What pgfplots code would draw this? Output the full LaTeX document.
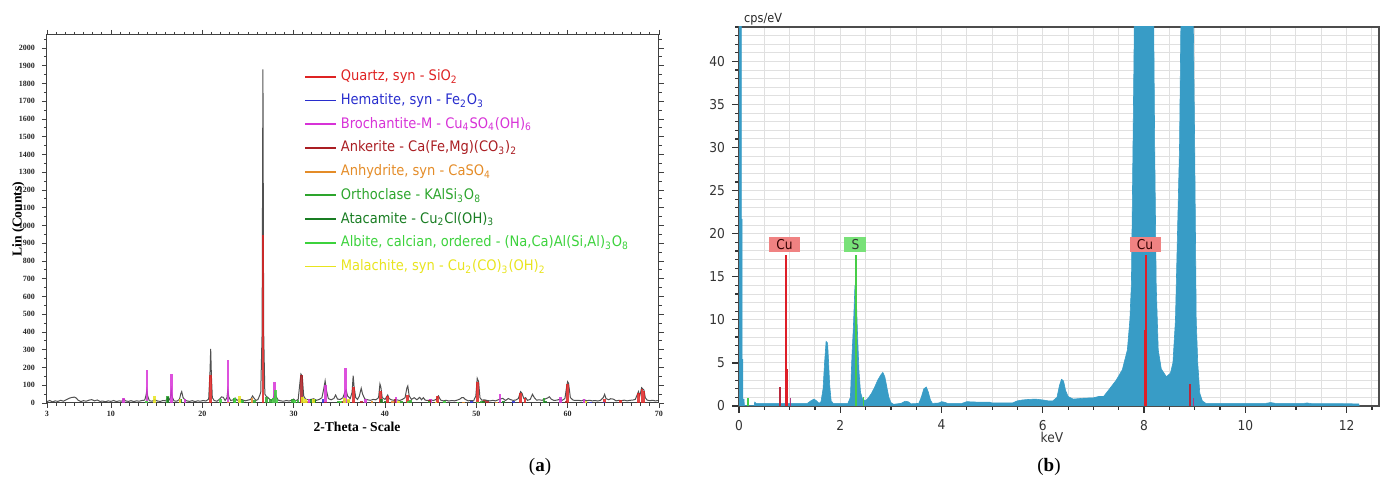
\documentclass[border=0pt]{standalone}
\usepackage{fontspec}
\setmainfont{Liberation Serif}
\newfontfamily\tah{DejaVu Sans Condensed}
\usepackage{pgfplots}
\usepackage{pgfplotstable}
\pgfplotsset{compat=1.18}

% phase colours (XRD)
\definecolor{qz}{RGB}{222,35,35}
\definecolor{hem}{RGB}{40,45,205}
\definecolor{bro}{RGB}{215,50,215}
\definecolor{ank}{RGB}{170,30,35}
\definecolor{anh}{RGB}{228,140,40}
\definecolor{ort}{RGB}{45,165,45}
\definecolor{ata}{RGB}{25,125,35}
\definecolor{alb}{RGB}{60,210,60}
\definecolor{mal}{RGB}{232,228,30}
% EDS colours
\definecolor{spec}{RGB}{56,156,198}
\definecolor{cured}{RGB}{222,30,40}
\definecolor{cudark}{RGB}{185,40,60}
\definecolor{cupur}{RGB}{170,60,130}
\definecolor{cupink}{RGB}{240,130,130}
\definecolor{sgreen}{RGB}{70,205,70}
\definecolor{sbox}{RGB}{120,225,120}
\definecolor{gridc}{RGB}{224,224,224}

% measured diffractogram (2theta, counts)
\pgfplotstableread{
x y
3.0 8
3.3 14
3.6 6
3.9 12
4.2 9
4.5 15
4.8 10
5.1 18
5.4 26
5.7 31
6.0 33
6.2 28
6.4 16
6.7 8
7.0 13
7.3 10
7.6 16
7.9 19
8.2 12
8.5 17
8.8 9
9.1 11
9.4 7
9.7 12
10.0 9
10.3 14
10.6 8
10.9 12
11.2 10
11.4 22
11.6 12
11.9 9
12.2 13
12.5 8
12.8 12
13.1 10
13.4 14
13.7 16
13.85 45
13.93 73
14.02 40
14.2 13
14.5 10
14.8 18
15.1 11
15.4 9
15.7 14
16.0 12
16.2 30
16.35 14
16.5 30
16.6 73
16.7 35
16.9 12
17.2 10
17.5 20
17.65 52
17.75 64
17.9 30
18.1 18
18.3 12
18.6 9
18.9 13
19.2 8
19.5 12
19.8 10
20.1 14
20.4 11
20.7 22
20.85 180
20.92 305
21.0 150
21.1 30
21.3 14
21.6 10
21.9 22
22.1 34
22.3 32
22.5 14
22.7 30
22.8 73
22.9 35
23.1 14
23.4 18
23.6 28
23.8 15
24.1 22
24.4 18
24.7 12
25.0 16
25.3 20
25.5 40
25.7 25
25.9 14
26.1 20
26.3 45
26.4 60
26.55 400
26.64 1880
26.72 400
26.85 50
27.0 38
27.2 30
27.4 20
27.6 15
27.8 30
27.95 55
28.1 35
28.3 16
28.6 12
28.9 10
29.2 14
29.5 11
29.8 16
30.0 22
30.2 12
30.5 20
30.7 120
30.8 163
30.95 150
31.1 40
31.3 22
31.6 18
31.9 20
32.2 24
32.5 15
32.8 20
33.1 30
33.3 80
33.45 125
33.6 70
33.8 25
34.1 18
34.4 25
34.6 45
34.8 22
35.1 20
35.4 30
35.6 60
35.75 73
35.9 40
36.2 25
36.4 60
36.52 154
36.62 90
36.8 30
37.0 20
37.2 40
37.4 83
37.55 50
37.8 22
38.1 18
38.4 15
38.7 20
39.0 18
39.3 30
39.45 107
39.55 90
39.7 30
40.0 20
40.3 45
40.45 25
40.7 18
41.0 15
41.3 18
41.6 14
41.9 20
42.2 30
42.4 85
42.5 96
42.65 40
42.9 20
43.2 30
43.5 18
43.8 32
44.0 18
44.2 30
44.4 16
44.7 14
45.0 18
45.3 14
45.6 20
45.85 40
46.1 16
46.4 12
46.7 15
47.0 11
47.3 14
47.6 12
47.9 16
48.2 22
48.4 30
48.6 30
48.8 20
49.1 12
49.4 14
49.7 12
49.95 40
50.1 139
50.25 120
50.4 30
50.6 16
50.9 18
51.2 14
51.5 12
51.8 15
52.1 12
52.4 18
52.6 22
52.9 26
53.2 14
53.5 25
53.7 20
54.0 15
54.3 16
54.6 25
54.85 64
55.0 55
55.2 25
55.4 30
55.6 15
55.9 20
56.15 49
56.35 30
56.6 16
56.9 18
57.2 15
57.5 22
57.8 28
58.0 35
58.2 22
58.5 14
58.8 16
59.1 20
59.4 15
59.7 25
59.9 95
60.0 120
60.1 110
60.3 30
60.6 16
60.9 14
61.2 15
61.5 12
61.8 18
62.1 13
62.4 15
62.7 12
63.0 14
63.3 11
63.6 15
63.9 30
64.05 49
64.2 25
64.5 18
64.7 24
65.0 22
65.3 12
65.6 15
65.9 13
66.2 16
66.5 12
66.8 15
67.1 16
67.4 20
67.65 50
67.75 64
67.9 40
68.1 86
68.2 80
68.35 73
68.5 30
68.7 16
69.0 13
69.3 15
69.6 12
70.0 14
}\xrd

% EDS spectrum (keV, cps/eV)
\pgfplotstableread{
x y
0.000 0
0.000 60
0.045 60
0.047 21.7
0.060 21.7
0.062 5.4
0.075 5.4
0.077 0.8
0.100 0.8
0.105 0.05
0.300 0.05
0.310 0.45
0.340 0.30
1.350 0.30
1.420 0.60
1.480 0.80
1.530 0.60
1.580 0.30
1.620 0.50
1.660 2.00
1.690 5.00
1.720 7.50
1.750 7.30
1.770 5.00
1.790 2.50
1.820 0.60
1.860 0.30
2.150 0.30
2.200 1.00
2.230 5.70
2.260 9.30
2.290 14.00
2.320 12.00
2.340 8.50
2.370 4.00
2.400 1.60
2.440 0.80
2.500 0.60
2.550 0.90
2.620 1.50
2.680 2.20
2.740 3.00
2.800 3.60
2.840 3.90
2.880 3.40
2.920 2.20
2.960 1.00
3.000 0.40
3.050 0.20
3.200 0.30
3.280 0.55
3.340 0.50
3.400 0.25
3.550 0.30
3.600 1.00
3.650 2.00
3.700 2.20
3.740 1.60
3.780 0.70
3.820 0.30
3.950 0.35
4.000 0.50
4.050 0.45
4.120 0.30
4.400 0.30
4.500 0.50
4.700 0.45
4.950 0.45
5.000 0.35
5.400 0.35
5.500 0.60
5.600 0.70
5.700 0.75
5.850 0.80
6.000 0.70
6.100 0.60
6.200 0.60
6.280 1.00
6.330 2.40
6.370 3.10
6.410 2.90
6.450 1.80
6.500 1.10
6.600 0.80
6.800 0.90
7.000 0.95
7.100 1.10
7.200 1.10
7.320 2.00
7.450 3.00
7.570 4.20
7.670 6.50
7.720 10.0
7.750 14.2
7.770 24.3
7.800 40.0
7.830 60.0
7.900 90.0
8.040 110
8.150 70.0
8.190 45.0
8.210 30.0
8.240 14.0
8.280 6.50
8.340 4.30
8.440 3.40
8.520 3.80
8.570 5.00
8.620 10.0
8.660 20.0
8.700 30.0
8.730 46.0
8.800 60.0
8.900 60.0
8.970 46.0
9.000 30.0
9.030 10.0
9.060 5.00
9.100 1.50
9.150 0.60
9.220 0.30
10.40 0.30
10.50 0.40
10.60 0.30
11.15 0.30
11.22 0.35
11.30 0.28
12.24 0.25
12.25 0
}\eds

\begin{document}
\begin{tikzpicture}
\path[use as bounding box] (0,0) rectangle (694.5pt,242.5pt);

% ---------------- (a) XRD pattern ----------------
\begin{axis}[
  at={(23.5pt,41pt)}, anchor=south west,
  width=306pt, height=184pt, scale only axis,
  xmin=3, xmax=70, ymin=0, ymax=2073,
  axis line style={draw=black!75, line width=0.5pt},
  tick align=outside,
  xtick={3,10,20,30,40,50,60,70},
  minor xtick={4,5,...,69},
  ytick={0,100,...,2000},
  minor ytick={50,150,...,2050},
  major tick length=2.5pt, minor tick length=1.5pt,
  tick style={black!75, line width=0.4pt},
  tick label style={font=\bfseries\fontsize{4}{4}\selectfont, text=black!85},
  xticklabel style={yshift=1.8pt},
  /pgf/number format/assume math mode=true,
  /pgf/number format/1000 sep={},
  xlabel={2-Theta - Scale}, ylabel={Lin (Counts)},
  label style={font=\bfseries\fontsize{6.8}{7}\selectfont},
  xlabel style={at={(axis description cs:0.5065,-0.066)}, anchor=center},
  ylabel style={at={(axis description cs:-0.047,0.5)}, anchor=center},
  legend cell align=left,
  legend image code/.code={\draw[#1, line width=0.9pt, opacity=1] (0pt,0pt) -- (15.5pt,0pt);},
  legend style={at={(axis description cs:0.42,0.909)}, anchor=north west,
    draw=none, fill=none, inner sep=0pt, row sep=3.85pt, column sep=1.8pt,
    font=\tah\fontsize{7.25}{8}\selectfont,
    nodes={inner sep=0pt, text height=6pt, text depth=2pt}},
  every axis plot post/.append style={opacity=0.85},
]
% measured pattern first, reference sticks over it
\addplot[forget plot, black!80, line width=0.5pt, opacity=1] table[x=x, y=y] {\xrd};
\addplot[ycomb, qz, line width=1.4pt] coordinates {
 (20.86,155) (26.64,945) (36.54,92) (39.47,70) (40.29,40) (42.45,45) (45.79,40)
 (50.14,120) (54.87,55) (55.33,30) (59.96,105) (64.03,25) (65.79,15)
 (67.74,55) (68.14,80) (68.31,65)};
\addlegendentry{\textcolor{qz}{Quartz, syn - SiO\textsubscript{2}}}
\addplot[ycomb, hem, line width=1.3pt] coordinates {
 (24.1,10) (33.2,20) (35.6,15) (40.9,8) (49.5,10) (54.1,12) (62.5,8) (64.0,8)};
\addlegendentry{\textcolor{hem}{Hematite, syn - Fe\textsubscript{2}O\textsubscript{3}}}
\addplot[ycomb, bro, line width=1.3pt] coordinates {
 (11.4,30) (13.93,186) (16.6,161) (18.1,25) (22.8,240) (27.9,120) (31.7,20)
 (33.5,100) (35.7,199) (37.9,20) (41.2,35) (45.0,25) (52.6,49) (59.2,35) (61.8,25)};
\addlegendentry{\textcolor{bro}{Brochantite-M - Cu\textsubscript{4}SO\textsubscript{4}(OH)\textsubscript{6}}}
\addplot[ycomb, ank, line width=1.3pt] coordinates {
 (30.85,160) (33.5,8) (35.3,12) (37.4,10) (41.1,20) (44.9,18) (50.9,15) (51.2,12) (59.8,10)};
\addlegendentry{\textcolor{ank}{Ankerite - Ca(Fe,Mg)(CO\textsubscript{3})\textsubscript{2}}}
\addplot[ycomb, anh, line width=1.3pt] coordinates {
 (22.9,8) (25.45,30) (31.4,12) (38.6,12) (40.8,10) (48.6,8) (52.2,8)};
\addlegendentry{\textcolor{anh}{Anhydrite, syn - CaSO\textsubscript{4}}}
\addplot[ycomb, ort, line width=1.3pt] coordinates {
 (16.2,40) (23.5,30) (24.4,18) (25.7,15) (27.0,35) (27.5,25) (29.9,25) (30.5,15)
 (32.3,20) (34.9,12) (41.8,12) (42.8,15) (44.8,10) (50.6,12) (57.4,30) (62.0,8)};
\addlegendentry{\textcolor{ort}{Orthoclase - KAlSi\textsubscript{3}O\textsubscript{8}}}
\addplot[ycomb, ata, line width=1.3pt] coordinates {
 (16.25,35) (17.6,20) (31.9,20) (32.3,18) (36.0,15) (39.6,20) (40.0,12) (50.8,10) (53.0,12) (57.6,10)};
\addlegendentry{\textcolor{ata}{Atacamite - Cu\textsubscript{2}Cl(OH)\textsubscript{3}}}
\addplot[ycomb, alb, line width=1.3pt] coordinates {
 (13.9,12) (22.0,20) (23.6,30) (24.2,15) (27.8,30) (28.0,73) (28.2,25) (30.1,15)
 (35.1,12) (42.5,10) (46.5,10) (48.0,8) (50.1,8)};
\addlegendentry{\textcolor{alb}{Albite, calcian, ordered - (Na,Ca)Al(Si,Al)\textsubscript{3}O\textsubscript{8}}}
\addplot[ycomb, mal, line width=1.3pt] coordinates {
 (14.8,41) (17.55,25) (24.1,40) (30.95,35) (31.3,25) (32.2,20) (35.6,30) (36.0,20)
 (41.5,10) (45.6,8) (62.0,10)};
\addlegendentry{\textcolor{mal}{Malachite, syn - Cu\textsubscript{2}(CO)\textsubscript{3}(OH)\textsubscript{2}}}
\end{axis}

% ---------------- (b) EDS spectrum ----------------
\begin{axis}[
  at={(369.5pt,39.5pt)}, anchor=south west,
  width=320pt, height=189.5pt, scale only axis,
  xmin=0, xmax=12.64, ymin=0, ymax=44,
  xtick={0,2,...,12}, minor xtick={0.5,1,...,12.5},
  ytick={0,5,...,40}, minor ytick={1,2,...,44},
  grid=both,
  major grid style={gridc, line width=0.5pt},
  minor grid style={gridc, line width=0.5pt},
  tick align=outside, xtick pos=left, ytick pos=left,
  major tick length=3.5pt, minor tick length=2pt,
  tick style={black!80, line width=0.6pt},
  axis line style={black!70, line width=1pt},
  tick label style={font=\tah\fontsize{6.8}{7}\selectfont, text=black!80},
  /pgf/number format/assume math mode=true,
  xlabel={keV},
  xlabel style={font=\tah\fontsize{6.8}{7}\selectfont, text=black!80,
    at={(axis description cs:0.489,-0.082)}, anchor=center},
  ylabel={cps/eV},
  ylabel style={font=\tah\fontsize{6.3}{7}\selectfont, text=black!85, rotate=-90,
    at={(axis description cs:0.005,1)}, anchor=south west, inner sep=0.8pt},
]
\addplot[fill=spec, draw=spec, line width=0.3pt] table[x=x, y=y] {\eds} \closedcycle;
% Cu lines
\addplot[ycomb, cured, line width=0.75pt] coordinates {(0.93,17.5) (8.04,17.5)};
\addplot[ycomb, cured, line width=1.6pt] coordinates {(0.935,4.3) (8.03,8.8)};
\addplot[ycomb, cudark, line width=0.8pt] coordinates {(0.81,2.2) (8.905,2.5)};
\addplot[ycomb, cupur, line width=0.8pt] coordinates {(1.02,0.9) (8.98,0.9)};
% S lines
\addplot[ycomb, sgreen, line width=0.75pt] coordinates {(2.31,17.5)};
\addplot[ycomb, sgreen, line width=0.8pt] coordinates {(0.18,0.9) (2.46,1.0)};
\node[fill=cupink, text=black!80!red, inner sep=0pt, minimum width=15.5pt, minimum height=7.5pt,
  anchor=south, font=\tah\fontsize{6.8}{7}\selectfont] at (axis cs:0.90,17.8) {Cu};
\node[fill=sbox, text=black!80, inner sep=0pt, minimum width=11pt, minimum height=7.5pt,
  anchor=south, font=\tah\fontsize{6.8}{7}\selectfont] at (axis cs:2.30,17.8) {S};
\node[fill=cupink, text=black!80!red, inner sep=0pt, minimum width=15.5pt, minimum height=7.5pt,
  anchor=south, font=\tah\fontsize{6.8}{7}\selectfont] at (axis cs:8.02,17.8) {Cu};
\end{axis}

\node[font=\fontsize{9.5}{10}\selectfont] at (270pt,9pt) {(\textbf{a})};
\node[font=\fontsize{9.5}{10}\selectfont] at (524.5pt,9pt) {(\textbf{b})};
\end{tikzpicture}
\end{document}
